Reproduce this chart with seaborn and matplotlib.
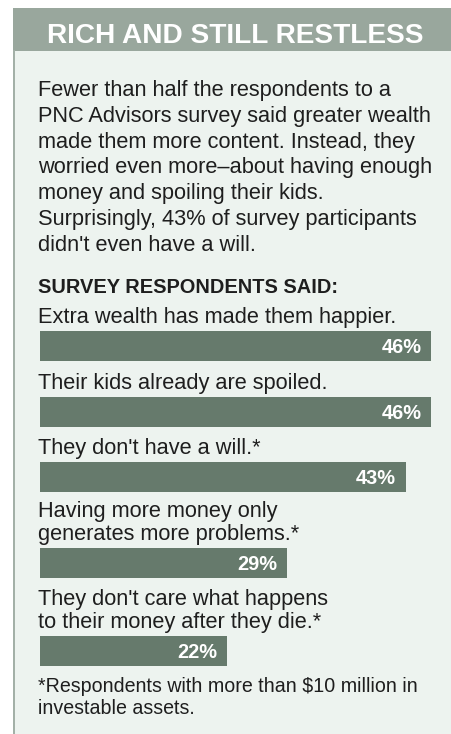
import matplotlib
matplotlib.use("Agg")
import matplotlib.pyplot as plt
import seaborn as sns
import pandas as pd
from matplotlib.patches import Rectangle

# ---------------- data ----------------
title = "RICH AND STILL RESTLESS"
intro_lines = [
    "Fewer than half the respondents to a",
    "PNC Advisors survey said greater wealth",
    "made them more content. Instead, they",
    "worried even more\u2013about having enough",
    "money and spoiling their kids.",
    "Surprisingly, 43% of survey participants",
    "didn't even have a will.",
]
section_heading = "SURVEY RESPONDENTS SAID:"
statements = [
    "Extra wealth has made them happier.",
    "Their kids already are spoiled.",
    "They don't have a will.*",
    "Having more money only\ngenerates more problems.*",
    "They don't care what happens\nto their money after they die.*",
]
percentages = [46, 46, 43, 29, 22]
footnote_lines = [
    "*Respondents with more than $10 million in",
    "investable assets.",
]

# ---------------- layout / style ----------------
W, H, DPI = 452, 734, 100
PT = 72.0 / DPI                      # points per pixel
BAR_LEFT = 40
PX_PER_PCT = 8.5
BAR_TOPS = [331, 397, 462, 548, 636]
BAR_H = 30
BAR_COLOR = "#667a6c"
PANEL_BG = "#edf3ef"
HEADER_BG = "#99a79d"
TEXT = "#1e1e1e"

sns.set_theme(style="white")
plt.rcParams["font.family"] = ["Liberation Sans", "DejaVu Sans"]

fig = plt.figure(figsize=(W / DPI, H / DPI), dpi=DPI)
fig.patch.set_facecolor("white")

bg = fig.add_axes([0, 0, 1, 1])
bg.set_xlim(0, W)
bg.set_ylim(H, 0)
bg.axis("off")

# panel, header band, left rule
bg.add_patch(Rectangle((14, 8), W - 14, H - 8, facecolor=PANEL_BG, edgecolor="none"))
bg.add_patch(Rectangle((13, 8), W - 13, 42.5, facecolor=HEADER_BG, edgecolor="none"))
bg.add_patch(Rectangle((13, 50), 2, H - 50, facecolor="#a3b0a7", edgecolor="none"))

bg.text(235, 43, title, ha="center", va="baseline", color="white",
        fontsize=28 * PT, fontweight="heavy")

# intro paragraph
for i, line in enumerate(intro_lines):
    bg.text(38, 96 + i * 25.8, line, ha="left", va="baseline", color=TEXT,
            fontsize=21.8 * PT)

bg.text(38, 293, section_heading, ha="left", va="baseline", color=TEXT,
        fontsize=20 * PT, fontweight="bold")

# statements and bars
for stmt, val, top in zip(statements, percentages, BAR_TOPS):
    lines = stmt.split("\n")
    for j, ln in enumerate(lines):
        y = top - 8 - (len(lines) - 1 - j) * 23
        bg.text(38, y, ln, ha="left", va="baseline", color=TEXT,
                fontsize=21.8 * PT)

    ax = fig.add_axes([BAR_LEFT / W, 1 - (top + BAR_H) / H,
                       (W - BAR_LEFT) / W, BAR_H / H])
    df = pd.DataFrame({"label": [stmt], "pct": [val]})
    sns.barplot(data=df, x="pct", y="label", orient="h", color=BAR_COLOR,
                saturation=1, width=1, ax=ax, edgecolor="none")
    ax.set_xlim(0, (W - BAR_LEFT) / PX_PER_PCT)
    ax.set_ylim(0.5, -0.5)
    ax.axis("off")
    ax.patch.set_alpha(0)
    ax.annotate(f"{val}%", xy=(val, 0), xycoords="data",
                xytext=(-9.5 * PT, -7 * PT), textcoords="offset points",
                ha="right", va="baseline", color="white", fontsize=20 * PT,
                fontweight="bold")

# footnote
for i, line in enumerate(footnote_lines):
    bg.text(38, 692 + i * 22, line, ha="left", va="baseline", color=TEXT,
            fontsize=19.6 * PT)

fig.savefig("out.png", dpi=DPI)
